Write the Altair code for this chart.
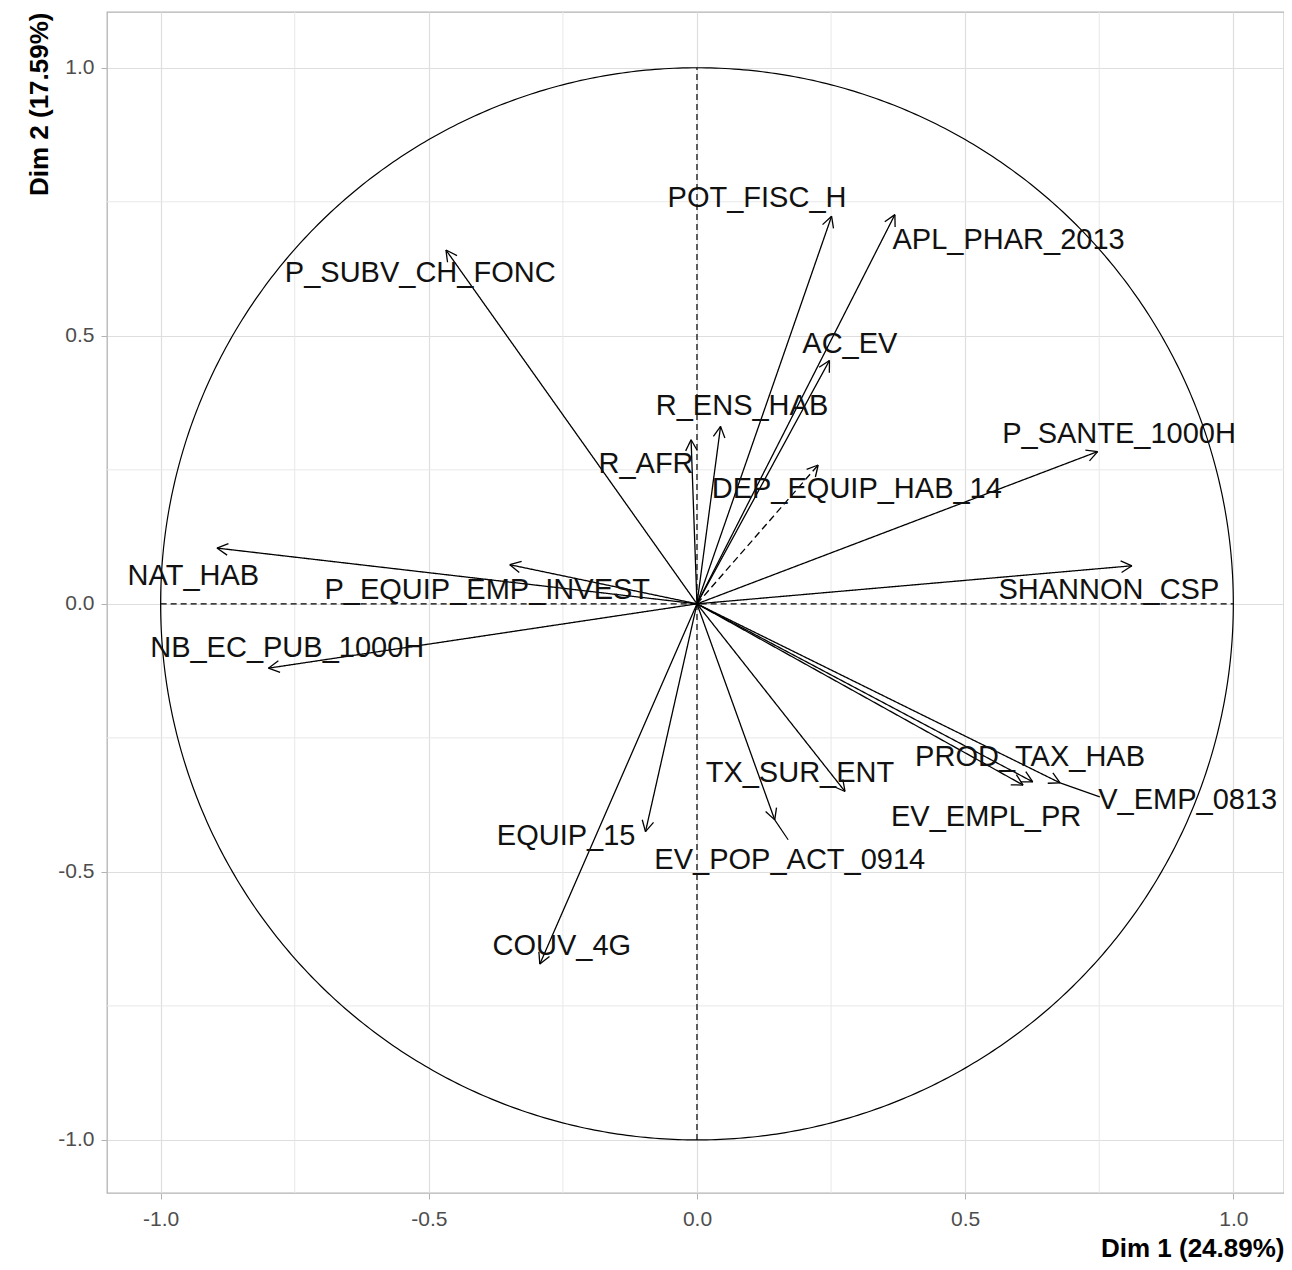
import altair as alt
import pandas as pd
import numpy as np

# ---- data ----
names = ["POT_FISC_H", "APL_PHAR_2013", "P_SUBV_CH_FONC", "AC_EV", "R_ENS_HAB",
         "R_AFR", "DEP_EQUIP_HAB_14", "P_SANTE_1000H", "NAT_HAB", "P_EQUIP_EMP_INVEST",
         "SHANNON_CSP", "NB_EC_PUB_1000H", "PROD_TAX_HAB", "TX_SUR_ENT", "V_EMP_0813",
         "EV_EMPL_PR", "EQUIP_15", "EV_POP_ACT_0914", "COUV_4G"]
dim1 = [0.251, 0.369, -0.468, 0.247, 0.044,
        -0.011, 0.226, 0.747, -0.895, -0.349,
        0.811, -0.799, 0.626, 0.276, 0.677,
        0.608, -0.096, 0.145, -0.293]
dim2 = [0.723, 0.726, 0.660, 0.454, 0.331,
        0.306, 0.259, 0.284, 0.104, 0.073,
        0.071, -0.120, -0.332, -0.350, -0.334,
        -0.338, -0.425, -0.403, -0.672]
label_x = [0.112, 0.581, -0.516, 0.285, 0.084,
           -0.095, 0.298, 0.787, -0.939, -0.391,
           0.768, -0.764, 0.621, 0.192, 0.915,
           0.539, -0.244, 0.173, -0.252]
label_y = [0.757, 0.679, 0.618, 0.485, 0.369,
           0.261, 0.215, 0.317, 0.052, 0.026,
           0.026, -0.082, -0.285, -0.315, -0.366,
           -0.397, -0.433, -0.478, -0.638]
dashed_vars = ["DEP_EQUIP_HAB_14"]
# label-connector segments (from arrow tip to label)
seg_names = ["EV_POP_ACT_0914", "V_EMP_0813"]
seg_x = [0.170, 0.751]
seg_y = [-0.440, -0.360]

major_ticks = [-1.0, -0.5, 0.0, 0.5, 1.0]
minor_ticks = [-0.75, -0.25, 0.25, 0.75]

x_title = "Dim 1 (24.89%)"
y_title = "Dim 2 (17.59%)"

# ---- derived tables ----
df = pd.DataFrame({"name": names, "x": dim1, "y": dim2, "lx": label_x, "ly": label_y})
df["x0"] = 0.0
df["y0"] = 0.0
df["style"] = np.where(df["name"].isin(dashed_vars), "dashed", "solid")

head_len = 0.023
head_ang = np.deg2rad(28)
heads = []
for _, r in df.iterrows():
    th = np.arctan2(r["y"], r["x"])
    for s in (1, -1):
        heads.append({"name": r["name"],
                      "x": r["x"], "y": r["y"],
                      "hx": r["x"] - head_len * np.cos(th + s * head_ang),
                      "hy": r["y"] - head_len * np.sin(th + s * head_ang)})
heads = pd.DataFrame(heads)

seg = pd.DataFrame({"name": seg_names, "sx": seg_x, "sy": seg_y}).merge(df[["name", "x", "y"]], on="name")

t = np.linspace(0, 2 * np.pi, 721)
circle = pd.DataFrame({"cx": np.cos(t), "cy": np.sin(t), "i": np.arange(len(t))})

minor_df = pd.DataFrame({"v": minor_ticks})
axes_df = pd.DataFrame({"a": [-1.0], "b": [1.0], "z": [0.0]})

xs = alt.Scale(domain=[-1.1, 1.0945], nice=False, zero=False)
ys = alt.Scale(domain=[-1.099, 1.104], nice=False, zero=False)

lab_expr = "datum.value < 0 ? '-' + format(-datum.value, '.1f') : format(datum.value, '.1f')"
common_axis = dict(values=major_ticks, labelExpr=lab_expr, labelFontSize=21,
                   labelColor="#4d4d4d", labelFont="Liberation Sans",
                   tickColor="#b3b3b3", tickSize=6, tickWidth=1,
                   gridColor="#dedede", gridWidth=1.2, domain=False,
                   titleFont="Liberation Sans", titleFontSize=26, titleFontWeight="bold",
                   titleColor="#000000", titleAnchor="end")
x_axis = alt.Axis(title=x_title, labelPadding=9, titlePadding=6, **common_axis)
y_axis = alt.Axis(title=y_title, labelPadding=7, titlePadding=5, **common_axis)

minor_v = alt.Chart(minor_df).mark_rule(color="#e8e8e8", strokeWidth=1).encode(
    x=alt.X("v:Q", scale=xs, axis=x_axis))
minor_h = alt.Chart(minor_df).mark_rule(color="#e8e8e8", strokeWidth=1).encode(
    y=alt.Y("v:Q", scale=ys, axis=y_axis))

hline = alt.Chart(axes_df).mark_rule(color="black", strokeWidth=1.2, strokeDash=[6, 4]).encode(
    x=alt.X("a:Q", scale=xs), x2="b:Q", y=alt.Y("z:Q", scale=ys))
vline = alt.Chart(axes_df).mark_rule(color="black", strokeWidth=1.2, strokeDash=[6, 4]).encode(
    y=alt.Y("a:Q", scale=ys), y2="b:Q", x=alt.X("z:Q", scale=xs))

circ = alt.Chart(circle).mark_line(color="black", strokeWidth=1.2).encode(
    x=alt.X("cx:Q", scale=xs), y=alt.Y("cy:Q", scale=ys), order="i:Q")

arrows = alt.Chart(df).mark_rule(color="black", strokeWidth=1.3).encode(
    x=alt.X("x0:Q", scale=xs), y=alt.Y("y0:Q", scale=ys), x2="x:Q", y2="y:Q",
    strokeDash=alt.StrokeDash("style:N",
                              scale=alt.Scale(domain=["solid", "dashed"], range=[[1, 0], [7, 4]]),
                              legend=None))

head_marks = alt.Chart(heads).mark_rule(color="black", strokeWidth=1.3).encode(
    x=alt.X("x:Q", scale=xs), y=alt.Y("y:Q", scale=ys), x2="hx:Q", y2="hy:Q")

seg_marks = alt.Chart(seg).mark_rule(color="black", strokeWidth=1.2).encode(
    x=alt.X("x:Q", scale=xs), y=alt.Y("y:Q", scale=ys), x2="sx:Q", y2="sy:Q")

labels = alt.Chart(df).mark_text(font="Liberation Sans", fontSize=29, color="#111111",
                                 align="center", baseline="middle").encode(
    x=alt.X("lx:Q", scale=xs), y=alt.Y("ly:Q", scale=ys), text="name:N")

chart = alt.layer(minor_v, minor_h, hline, vline, circ, arrows, head_marks, seg_marks, labels).properties(
    width=1177, height=1181,
    autosize=alt.AutoSizeParams(type="none"),
    padding={"left": 99, "top": 4, "right": 0, "bottom": 69},
).configure_view(stroke="#b3b3b3", strokeWidth=1.3)

chart.save("out.html", embed_options={"renderer": "svg", "actions": False})
